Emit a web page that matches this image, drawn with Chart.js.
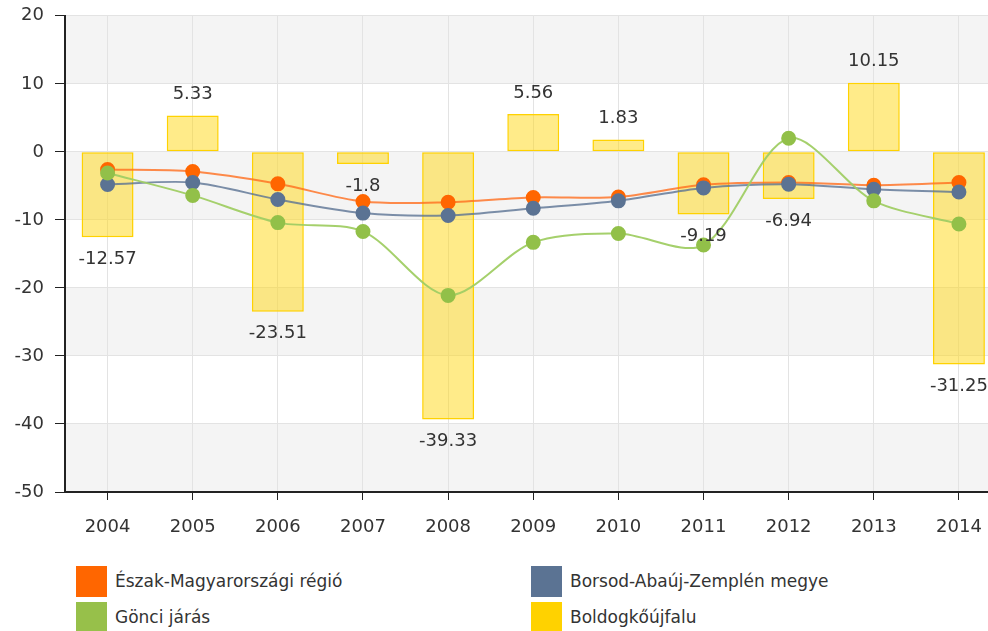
<!DOCTYPE html>
<html>
<head>
<meta charset="utf-8">
<script src="https://cdn.jsdelivr.net/npm/chart.js@4/dist/chart.umd.min.js"></script>
<style>
  html, body { margin: 0; padding: 0; background: #fff; overflow: hidden; }
  #wrap { position: relative; width: 988px; height: 631px; overflow: hidden; }
  #chart { position: absolute; left: 0; top: -6px; }
  .legend-item { position: absolute; font-family: "DejaVu Sans", sans-serif; font-size: 17px; color: #333; }
  .legend-item span.box { position: absolute; left: 0; top: 0; width: 31px; height: 31px; }
  .legend-item span.txt { position: absolute; left: 39px; top: 5px; white-space: nowrap; }
</style>
</head>
<body>
<div id="wrap">
  <canvas id="chart" width="1010" height="551"></canvas>
  <div id="legend"></div>
</div>
<script>
const years = ['2004','2005','2006','2007','2008','2009','2010','2011','2012','2013','2014'];
const eszak = [-2.6, -2.9, -4.7, -7.3, -7.4, -6.7, -6.65, -4.85, -4.5, -4.9, -4.5];
const borsod = [-4.8, -4.5, -7.0, -9.0, -9.35, -8.3, -7.2, -5.3, -4.75, -5.5, -5.9];
const gonci = [-3.1, -6.4, -10.4, -11.7, -21.1, -13.3, -12.0, -13.7, 2.0, -7.2, -10.6];
const boldog = [-12.57, 5.33, -23.51, -1.8, -39.33, 5.56, 1.83, -9.19, -6.94, 10.15, -31.25];
const yTicks = [20, 10, 0, -10, -20, -30, -40, -50];

const seriesNames = ['Észak-Magyarországi régió', 'Borsod-Abaúj-Zemplén megye', 'Gönci járás', 'Boldogkőújfalu'];
const colors = ['#ff6600', '#5b7393', '#92c049', '#ffd200'];

const font = { family: 'DejaVu Sans', size: 18 };

// gray bands every other 10 units
const bandsPlugin = {
  id: 'bands',
  beforeDraw(chart) {
    const { ctx, chartArea, scales } = chart;
    const y = scales.y;
    ctx.save();
    ctx.fillStyle = '#f4f4f4';
    for (let i = 0; i < yTicks.length - 1; i += 2) {
      const top = y.getPixelForValue(yTicks[i]);
      const bottom = y.getPixelForValue(yTicks[i + 1]);
      ctx.fillRect(chartArea.left, top, chartArea.right - chartArea.left, bottom - top);
    }
    ctx.fillRect(chartArea.left, y.getPixelForValue(-40), chartArea.right - chartArea.left,
      y.getPixelForValue(-50) - y.getPixelForValue(-40));
    ctx.restore();
  }
};

// value labels on the bars
const barLabels = {
  id: 'barLabels',
  afterDatasetsDraw(chart) {
    const ctx = chart.ctx;
    const idx = chart.data.datasets.findIndex(d => d.type === 'bar');
    const meta = chart.getDatasetMeta(idx);
    ctx.save();
    ctx.font = '18px "DejaVu Sans"';
    ctx.fillStyle = '#333';
    ctx.textAlign = 'center';
    ctx.textBaseline = 'middle';
    meta.data.forEach((el, i) => {
      const v = boldog[i];
      const yy = v >= 0 ? el.y - 21 : el.y + 22;
      ctx.fillText(String(v), el.x, yy);
    });
    ctx.restore();
  }
};

function lineSet(label, data, color, lineColor, order) {
  return {
    type: 'line',
    label: label,
    data: data,
    borderColor: lineColor,
    backgroundColor: color,
    pointBackgroundColor: color,
    pointBorderColor: color,
    pointRadius: 6.5,
    borderWidth: 2,
    tension: 0.3,
    fill: false,
    order: order
  };
}

new Chart(document.getElementById('chart'), {
  data: {
    labels: years,
    datasets: [
      lineSet(seriesNames[2], gonci, colors[2], 'rgba(160, 206, 100, 0.95)', 1),
      lineSet(seriesNames[1], borsod, colors[1], 'rgba(91, 115, 147, 0.8)', 2),
      lineSet(seriesNames[0], eszak, colors[0], 'rgba(255, 110, 30, 0.8)', 3),
      {
        type: 'bar',
        label: seriesNames[3],
        data: boldog,
        backgroundColor: 'rgba(255, 215, 20, 0.5)',
        borderColor: '#ffd200',
        borderWidth: 1.5,
        borderSkipped: false,
        categoryPercentage: 1,
        barPercentage: 0.61,
        order: 10
      }
    ]
  },
  options: {
    responsive: false,
    animation: false,
    devicePixelRatio: 1,
    layout: { padding: { top: 4, right: 0, left: 0, bottom: 0 } },
    plugins: {
      legend: { display: false },
      tooltip: { enabled: false }
    },
    scales: {
      x: {
        offset: true,
        grid: { offset: false, color: '#e3e3e3', tickColor: '#222', tickLength: 8 },
        border: { color: '#222', width: 2 },
        ticks: { font: font, color: '#333', padding: 17, maxRotation: 0 },
        afterFit(scale) { scale.height = 53; }
      },
      y: {
        min: -50,
        max: 20,
        grid: { color: '#e3e3e3', tickColor: '#222', tickLength: 10 },
        border: { color: '#222', width: 2 },
        ticks: { stepSize: 10, font: font, color: '#333', padding: 11 },
        afterFit(scale) { scale.width = 65; }
      }
    }
  },
  plugins: [bandsPlugin, barLabels]
});

// legend below the chart, two columns
const legendPos = [[76, 566], [531, 566], [76, 602], [531, 602]];
const legendColors = ['#ff6600', '#5b7393', '#97c04a', '#ffd200'];
const leg = document.getElementById('legend');
seriesNames.forEach((name, i) => {
  const item = document.createElement('div');
  item.className = 'legend-item';
  item.style.left = legendPos[i][0] + 'px';
  item.style.top = legendPos[i][1] + 'px';
  item.innerHTML = '<span class="box" style="background:' + legendColors[i] + '"></span>' +
    '<span class="txt">' + name + '</span>';
  leg.appendChild(item);
});
</script>
</body>
</html>
